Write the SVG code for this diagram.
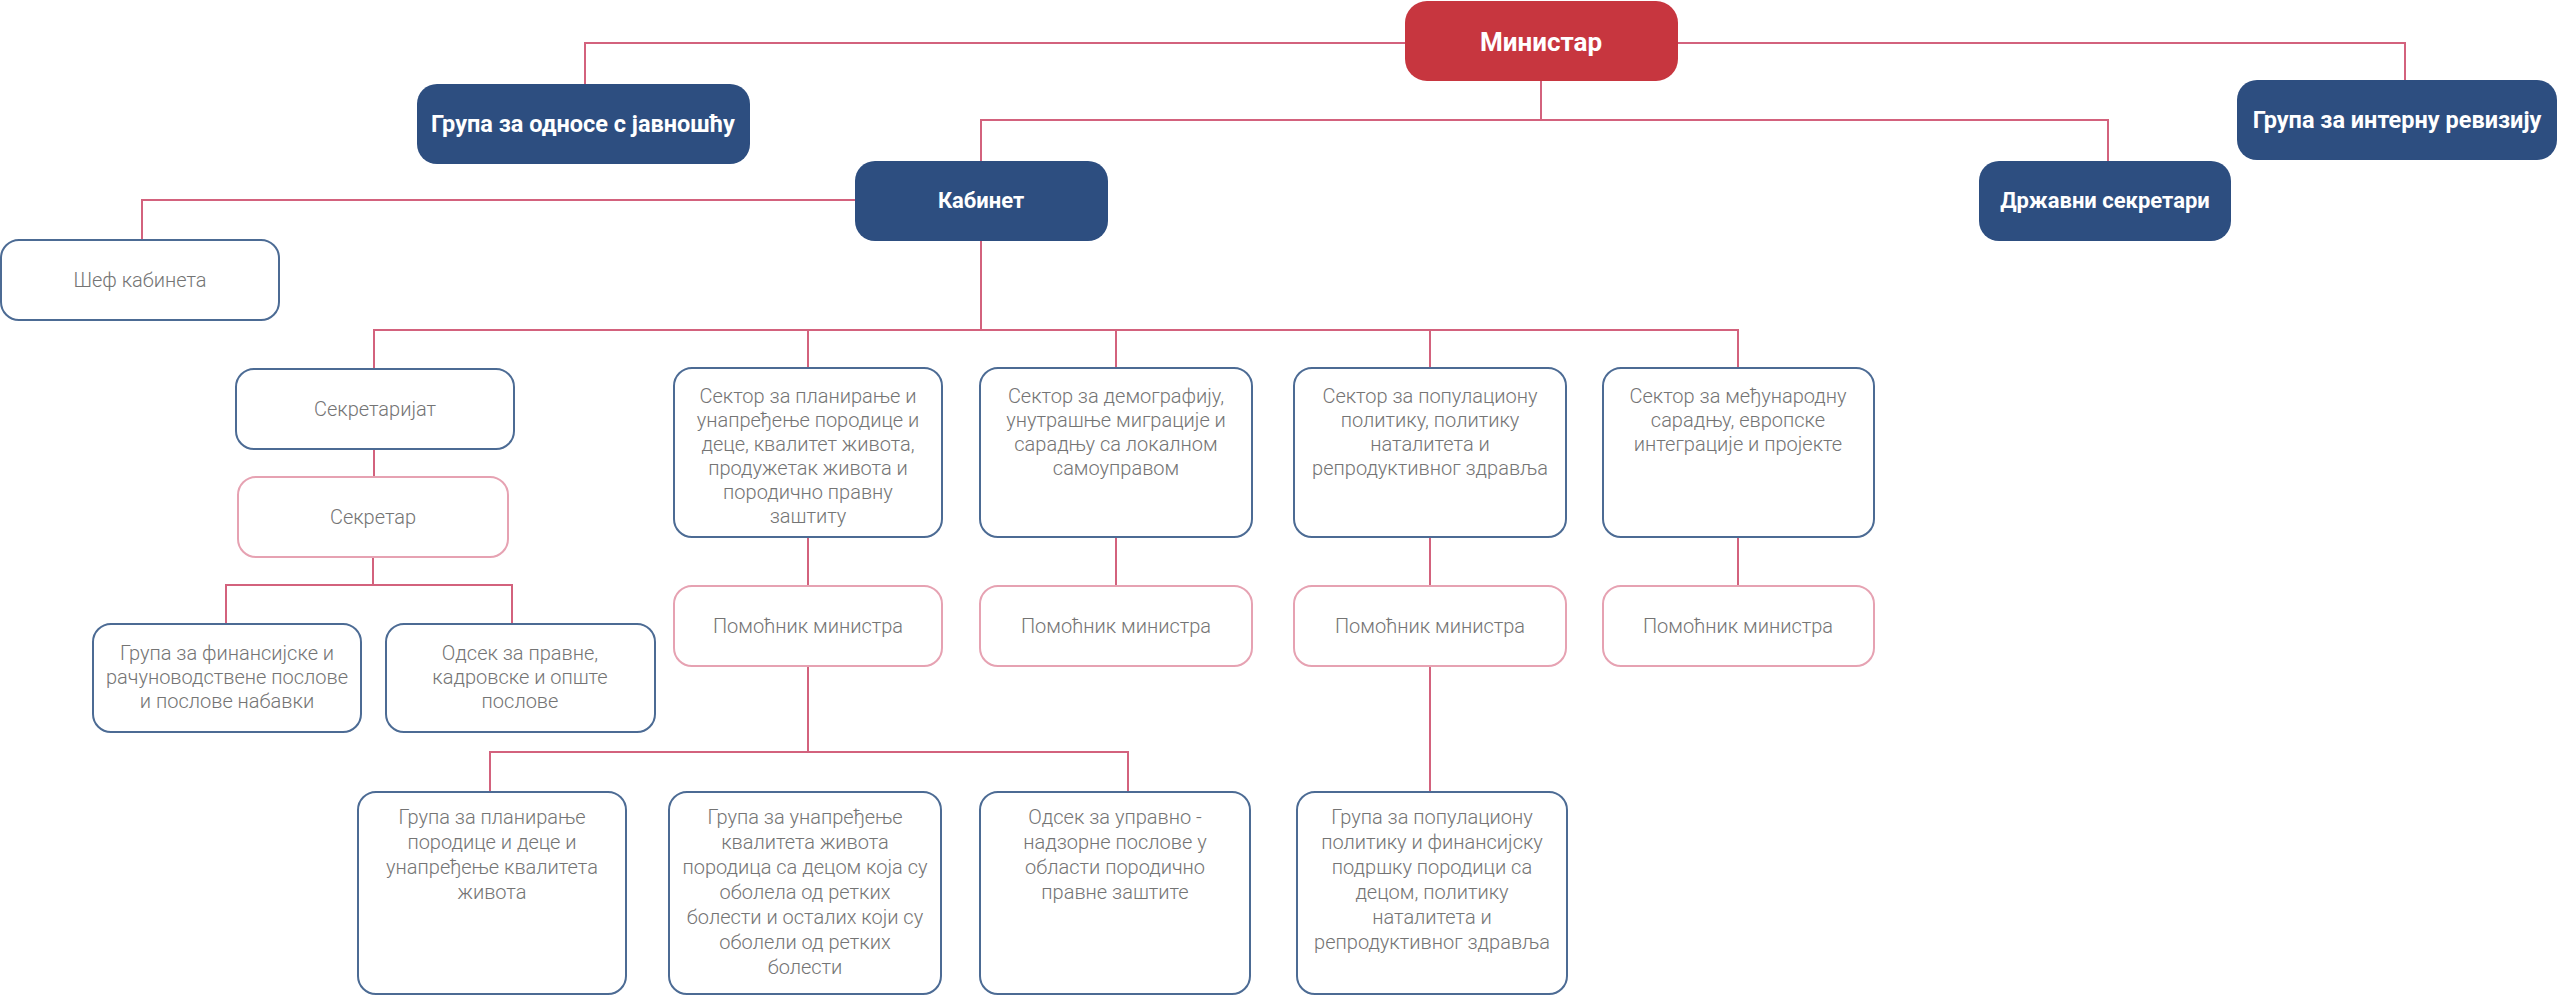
<svg xmlns="http://www.w3.org/2000/svg" width="2560" height="997" viewBox="0 0 2560 997">
<style>
.red{fill:#C7363F}
.blue{fill:#2D4E80}
.ob{fill:#fff;stroke:#4C6B94;stroke-width:2}
.op{fill:#fff;stroke:#E6A2B2;stroke-width:2}
.h{font-family:Roboto,"Liberation Sans",sans-serif;font-weight:700;fill:#fff;text-anchor:middle}
.t{font-family:Roboto,"Liberation Sans",sans-serif;font-weight:300;font-size:20px;fill:#747474;text-anchor:middle}
.c{fill:none;stroke:#D3627D;stroke-width:2}
</style>
<rect width="2560" height="997" fill="#fff"/>
<g id="connectors" class="c">
<path d="M1405,43H585V84"/>
<path d="M1678,43H2405V80"/>
<path d="M1541,81V120M981,161V120H2108V161"/>
<path d="M855,200H142V240"/>
<path d="M981,241V330M374,368V330H1738V368M808,330V368M1116,330V368M1430,330V368"/>
<path d="M374,449V477"/>
<path d="M373,557V585M226,624V585H512V624"/>
<path d="M808,537V586M1116,537V586M1430,537V586M1738,537V586"/>
<path d="M808,666V752M490,792V752H1128V792"/>
<path d="M1430,666V792"/>
</g>
<g id="ministar"><rect class="red" x="1405" y="1" width="273" height="80" rx="22"/><text class="h" font-size="26" x="1541" y="51">Министар</text></g>
<g id="odnosi"><rect class="blue" x="417" y="84" width="333" height="80" rx="20"/><text class="h" font-size="23.5" x="583" y="132">Група за односе с јавношћу</text></g>
<g id="revizija"><rect class="blue" x="2237" y="80" width="320" height="80" rx="20"/><text class="h" font-size="23.5" x="2397" y="128">Група за интерну ревизију</text></g>
<g id="kabinet"><rect class="blue" x="855" y="161" width="253" height="80" rx="20"/><text class="h" font-size="22" x="981" y="208">Кабинет</text></g>
<g id="drzavni"><rect class="blue" x="1979" y="161" width="252" height="80" rx="20"/><text class="h" font-size="22" x="2105" y="208">Државни секретари</text></g>
<g id="sef"><rect class="ob" x="1" y="240" width="278" height="80" rx="18"/><text class="t" x="140" y="287">Шеф кабинета</text></g>
<g id="sekretarijat"><rect class="ob" x="236" y="369" width="278" height="80" rx="18"/><text class="t" x="375" y="416">Секретаријат</text></g>
<g id="sekretar"><rect class="op" x="238" y="477" width="270" height="80" rx="18"/><text class="t" x="373" y="524">Секретар</text></g>
<g id="finansije"><rect class="ob" x="93" y="624" width="268" height="108" rx="18"/><text class="t" x="227" y="660"><tspan x="227">Група за финансијске и</tspan><tspan x="227" dy="24">рачуноводствене послове</tspan><tspan x="227" dy="24">и послове набавки</tspan></text></g>
<g id="pravne"><rect class="ob" x="386" y="624" width="269" height="108" rx="18"/><text class="t" x="520" y="660"><tspan x="520">Одсек за правне,</tspan><tspan x="520" dy="24">кадровске и опште</tspan><tspan x="520" dy="24">послове</tspan></text></g>
<g id="sektor1"><rect class="ob" x="674" y="368" width="268" height="169" rx="18"/><text class="t" y="403"><tspan x="808">Сектор за планирање и</tspan><tspan x="808" dy="24">унапређење породице и</tspan><tspan x="808" dy="24">деце, квалитет живота,</tspan><tspan x="808" dy="24">продужетак живота и</tspan><tspan x="808" dy="24">породично правну</tspan><tspan x="808" dy="24">заштиту</tspan></text></g>
<g id="sektor2"><rect class="ob" x="980" y="368" width="272" height="169" rx="18"/><text class="t" y="403"><tspan x="1116">Сектор за демографију,</tspan><tspan x="1116" dy="24">унутрашње миграције и</tspan><tspan x="1116" dy="24">сарадњу са локалном</tspan><tspan x="1116" dy="24">самоуправом</tspan></text></g>
<g id="sektor3"><rect class="ob" x="1294" y="368" width="272" height="169" rx="18"/><text class="t" y="403"><tspan x="1430">Сектор за популациону</tspan><tspan x="1430" dy="24">политику, политику</tspan><tspan x="1430" dy="24">наталитета и</tspan><tspan x="1430" dy="24">репродуктивног здравља</tspan></text></g>
<g id="sektor4"><rect class="ob" x="1603" y="368" width="271" height="169" rx="18"/><text class="t" y="403"><tspan x="1738">Сектор за међународну</tspan><tspan x="1738" dy="24">сарадњу, европске</tspan><tspan x="1738" dy="24">интеграције и пројекте</tspan></text></g>
<g id="pomocnik1"><rect class="op" x="674" y="586" width="268" height="80" rx="18"/><text class="t" x="808" y="633">Помоћник министра</text></g>
<g id="pomocnik2"><rect class="op" x="980" y="586" width="272" height="80" rx="18"/><text class="t" x="1116" y="633">Помоћник министра</text></g>
<g id="pomocnik3"><rect class="op" x="1294" y="586" width="272" height="80" rx="18"/><text class="t" x="1430" y="633">Помоћник министра</text></g>
<g id="pomocnik4"><rect class="op" x="1603" y="586" width="271" height="80" rx="18"/><text class="t" x="1738" y="633">Помоћник министра</text></g>
<g id="grupa1"><rect class="ob" x="358" y="792" width="268" height="202" rx="18"/><text class="t" y="824"><tspan x="492">Група за планирање</tspan><tspan x="492" dy="25">породице и деце и</tspan><tspan x="492" dy="25">унапређење квалитета</tspan><tspan x="492" dy="25">живота</tspan></text></g>
<g id="grupa2"><rect class="ob" x="669" y="792" width="272" height="202" rx="18"/><text class="t" y="824"><tspan x="805">Група за унапређење</tspan><tspan x="805" dy="25">квалитета живота</tspan><tspan x="805" dy="25">породица са децом која су</tspan><tspan x="805" dy="25">оболела од ретких</tspan><tspan x="805" dy="25">болести и осталих који су</tspan><tspan x="805" dy="25">оболели од ретких</tspan><tspan x="805" dy="25">болести</tspan></text></g>
<g id="odsek"><rect class="ob" x="980" y="792" width="270" height="202" rx="18"/><text class="t" y="824"><tspan x="1115">Одсек за управно -</tspan><tspan x="1115" dy="25">надзорне послове у</tspan><tspan x="1115" dy="25">области породично</tspan><tspan x="1115" dy="25">правне заштите</tspan></text></g>
<g id="grupa4"><rect class="ob" x="1297" y="792" width="270" height="202" rx="18"/><text class="t" y="824"><tspan x="1432">Група за популациону</tspan><tspan x="1432" dy="25">политику и финансијску</tspan><tspan x="1432" dy="25">подршку породици са</tspan><tspan x="1432" dy="25">децом, политику</tspan><tspan x="1432" dy="25">наталитета и</tspan><tspan x="1432" dy="25">репродуктивног здравља</tspan></text></g>
</svg>
